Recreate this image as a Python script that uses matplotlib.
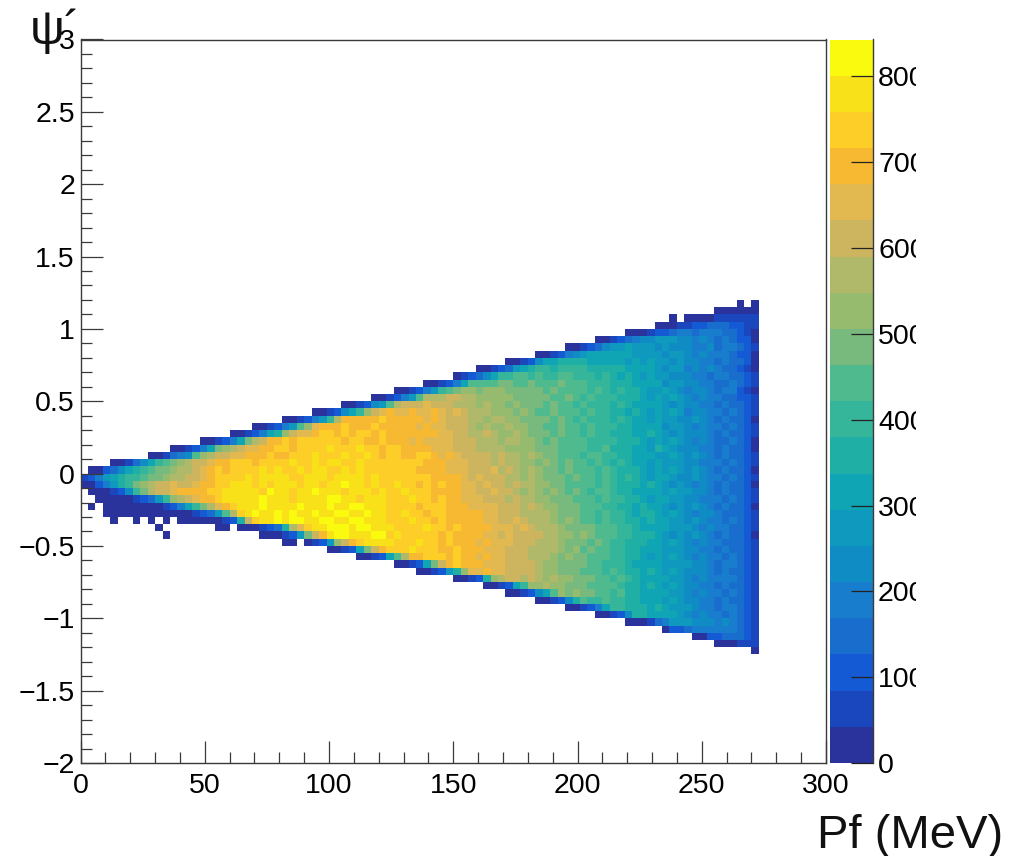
import numpy as np
import matplotlib
matplotlib.use("Agg")
import matplotlib.pyplot as plt
from matplotlib.colors import ListedColormap, BoundaryNorm
from matplotlib.ticker import MultipleLocator
from matplotlib.transforms import Bbox

W, H = 1010, 856
plt.rcParams['font.family'] = ['Liberation Sans', 'DejaVu Sans']
plt.rcParams['axes.unicode_minus'] = True

Z_MAX = 843.0
BAND_COLORS = ["#2a329b", "#1a46be", "#145ad5", "#196ecd", "#197dcd", "#0f8cc3", "#0f99be", "#0fa5b4",
               "#1fafa5", "#35b59a", "#50ba8f", "#78ba7d", "#96ba6e", "#b0b969", "#cdb45f", "#e1b950",
               "#f8b932", "#fdcd28", "#f8e119", "#fafa0f"]

x_edges = np.arange(0, 274, 3)
y_edges = np.round(np.arange(-1.25, 1.21, 0.05), 2)

# Colour-band index of every bin, top row (y 1.15..1.20) to bottom row (y -1.25..-1.20).
# 0-9, a-j = band 0-19, '.' = empty. Rows are right-aligned on the last bin; spaces only group the text.
band_rows = [
    "0.0",
    "000000",
    "0. 0000111111",
    "0001 1223332211",
    "00012234 4344433210",
    "00 1234556665 5454343220",
    "001235 6676665655 5445344321",
    "0012456777 7776666566 5454443220",
    "0012 5778888777 7767676656 5544343320",
    "00123678 9989999888 8877776566 4545433210",
    "0 1235799aa9 a99aa99989 8787676655 5443443321",
    "00124 7aaaabbaab aaabaaa999 8887777566 5544334321",
    "001246 9ab ccbcccbbbb babaaaa9a9 8988766765 4554344210",
    "00 1246adddee ddcccccbbb bbaaba9a99 9888767676 5454433221",
    "001256 adeeefeeed ddcdccbcbb babaa9a999 8987777656 5544343321",
    "0012579cef gffgffgfef edddcccbcb aabaaa9a99 8878767676 4554434321",
    "0012 469dgggggh gggggfgfee eddcddccbb bbaba9a999 8987767665 5654343320",
    "001246ac fggghggghg ggggfgffee edcdccdccb baabaa9a99 9887777566 5454434321",
    "0 012478ceff ghhghghhgh gggggggffe eddedccdcb bbabaa9a99 8887787656 5554343321",
    "00124 7bdegghghh hhhhghhggh gggfgffffe eedddcddcc babaaaa999 9888767676 5454334320",
    "001247bcd effgghhghh hhihhhihhg hhggggfffe eeddddcccc bbbaaaa99a 8887768765 5544343320",
    "00 1345acdeef fggghgghhh ihhhihhihg hhgghhgfgf eeeededdcd cbbaaa9aa9 9887776676 5654343321",
    "0013579 abcdeefggh hhghhhhihh ihiihhihhh hhhhhgggff feeededdcc bcbabaa9a9 8987767666 5544434321",
    "00235789ab bcddefghgh hhhihihhih iihhihihhh hhhhggggff feeefdedcd cbbabaaa9a 9888767676 5654343320",
    "1 2467899abb cddeefghhh hihiiiihhi iihiiiihih hhhhhhgggg fefeeeddcd cbbbabaa9a 9898767765 5654434321",
    "0 024689bcde efeefgghhi iihihiiihi ihiijiihih hihhghghgg ffefeededd ccbbaaaa9a 9888787656 5454343320",
    "000125 9bde efgggghhii iiihjiihii jiiihiiihi hhihhhgggg ffeefeedcd cbcbaba9aa 9887777676 6554343321",
    "000001236 9cdefgghii iiijiiihii iijjiihiii hhhihhghgg fffeeededd ccbbbaaa9a 9988767766 5544434321",
    "0. 00000000 12479bdfgh iiijiiiiji iijiijjiii hhhhghhhgg gffffeeede dccbbbaaa9 9887877656 5654343320",
    "00000000 00001236ad hijiijijii jiijjiijii hhihhghhgg gggffeeedd ddcbbbaa9a 9987887676 5455433321",
    "0..0.0. 0.00000012 8ehiijijji ijjiijjiii hhhihhghgg gggffeefed ddcbcbaa9a 9988787766 5654434321",
    "0 .......00. 0001238dfh iijjjijjii ihhhhihhgh ggggfffefe dddcbbbbaa a998777766 6545443321",
    "0......... ...000126b egijjiiijj hihhhhhghg gggffefeee eddccbcbaa a998887656 5654343320",
    "00.0 126cegh iii ihhhihhghg ggfgfffeee dddcbbbaba 9988877676 5454433321",
    "00127beg hhhihhhggh gggfffeeed dddcbcabaa 9988777666 5544343321",
    "0012 7adgghhhgh ggfgffeeed ddcbcbbaaa 9988767676 5454434321",
    "00127begh gggfffeeee dccbbbbaa9 9987777666 6554344321",
    "001268 cffgffeeee dccbbbaaa9 a988787676 5554343321",
    "0 0128cdeede dcdccbbbaa 9a98777766 5454444321",
    "001279c cdccbbbaaa a988787676 5544343321",
    "0012 57acbcbbaa 9a88777766 5454434321",
    "00125 8a99a 9988777676 5544343321",
    "001247 9988878766 6544344321",
    "00 1258877776 5454434321",
    "00013466 6555454321",
    "022 3444444321",
    "002233321",
    "000111",
    "0",
]

tick_x = [0, 50, 100, 150, 200, 250, 300]
tick_y = [-2, -1.5, -1, -0.5, 0, 0.5, 1, 1.5, 2, 2.5, 3]
tick_y_labels = ["\u22122", "\u22121.5", "\u22121", "\u22120.5", "0", "0.5", "1", "1.5", "2", "2.5", "3"]
tick_z = [0, 100, 200, 300, 400, 500, 600, 700, 800]
x_title = "Pf (MeV)"
y_title = "\u03c8\u00b4"

SYMBOLS = "0123456789abcdefghij"
band_width = Z_MAX / len(BAND_COLORS)
counts = np.full((len(band_rows), 91), np.nan)
for r, text in enumerate(band_rows):
    cells = text.replace(" ", "").rjust(91, ".")[-91:]
    for c, ch in enumerate(cells):
        if ch != ".":
            counts[r, c] = (SYMBOLS.index(ch) + 0.5) * band_width
counts = counts[::-1]


def ax_rect(left, top, right, bottom):
    return [left / W, 1 - bottom / H, (right - left) / W, (bottom - top) / H]


fig = plt.figure(figsize=(W / 100, H / 100), dpi=100)
ax = fig.add_axes(ax_rect(80.5, 39.5, 826, 763))
cax = fig.add_axes(ax_rect(830, 39.5, 872.5, 763))

cmap = ListedColormap(BAND_COLORS)
norm = BoundaryNorm(np.linspace(0, Z_MAX, len(BAND_COLORS) + 1), cmap.N)
mesh = ax.pcolormesh(x_edges, y_edges, np.ma.masked_invalid(counts), cmap=cmap, norm=norm,
                     linewidth=0, antialiased=False)

FRAME = "#3a3a3a"
FS = 20.5
ax.set_xlim(0, 300)
ax.set_ylim(-2, 3)
ax.set_xticks(tick_x)
ax.set_yticks(tick_y)
ax.set_yticklabels(tick_y_labels)
ax.xaxis.set_minor_locator(MultipleLocator(10))
ax.yaxis.set_minor_locator(MultipleLocator(0.1))
ax.tick_params(which='major', direction='in', length=16, width=0.9, color=FRAME, labelsize=FS,
               top=False, right=False)
ax.tick_params(which='minor', direction='in', length=8, width=0.9, color=FRAME, top=False, right=False)
ax.tick_params(axis='x', which='major', pad=7)
ax.tick_params(axis='y', which='major', pad=4)
for s in ax.spines.values():
    s.set_color(FRAME)
    s.set_linewidth(1.0)

cb = fig.colorbar(mesh, cax=cax, ticks=tick_z, spacing='proportional')
cb.ax.set_ylim(0, Z_MAX)
cb.outline.set_visible(False)
cax.spines['right'].set_visible(True)
cax.spines['right'].set_color(FRAME)
cax.spines['right'].set_linewidth(1.0)
cax.tick_params(which='major', direction='in', length=16, width=0.9, color="#222222", labelsize=FS,
                pad=4, right=True, left=False, labelright=True)
cax.minorticks_off()
clip = Bbox.from_extents(0, 0, 916, H)
for lab in cax.get_yticklabels():
    lab.set_clip_on(True)
    lab.set_clip_box(clip)

T = lambda x, y: (x / W, 1 - y / H)
fig.text(*T(1003, 848), x_title, ha='right', va='baseline', fontsize=34, color="#111111")
fig.text(*T(30, 44), y_title, ha='left', va='baseline', fontsize=35, color="#111111")

fig.savefig("out.png", dpi=100, facecolor="white")
